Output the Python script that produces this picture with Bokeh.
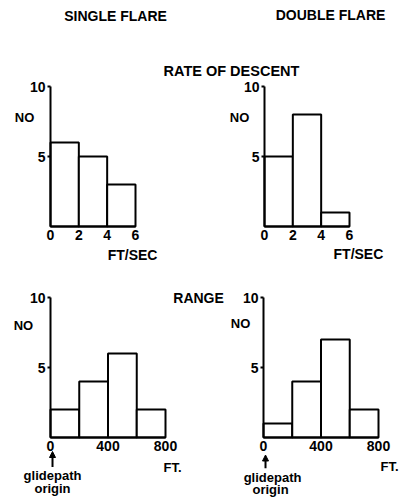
from bokeh.plotting import figure
from bokeh.layouts import column, row
from bokeh.models import Range1d, FixedTicker, Label, Arrow, NormalHead
from bokeh.embed import file_html
from bokeh.resources import INLINE

FONT = "Liberation Sans"

# Rate of descent (ft/sec) histogram
descent_edges = [0, 2, 4, 6]
descent_single = [6, 5, 3]
descent_double = [5, 8, 1]
descent_ticks = [0, 2, 4, 6]

# Range (ft) histogram
range_edges = [0, 200, 400, 600, 800]
range_single = [2, 4, 6, 2]
range_double = [1, 4, 7, 2]
range_ticks = [0, 400, 800]

count_ticks = [5, 10]

PX_PER_COUNT = 14.0


def panel(edges, counts, xticks, width, height, origin_x, origin_y, px_per_x):
    # frame fills the whole canvas; the axes are pinned to the data origin
    x0 = -origin_x / px_per_x
    x1 = (width - origin_x) / px_per_x
    y1 = origin_y / PX_PER_COUNT
    y0 = -(height - origin_y) / PX_PER_COUNT
    p = figure(width=width, height=height, output_backend="svg", toolbar_location=None,
               x_range=Range1d(x0, x1), y_range=Range1d(y0, y1), min_border=0)
    p.outline_line_color = None
    p.xgrid.visible = False
    p.ygrid.visible = False
    p.quad(left=edges[:-1], right=edges[1:], top=counts, bottom=0,
           fill_color="white", line_color="black", line_width=2)
    xa, ya = p.xaxis[0], p.yaxis[0]
    xa.fixed_location = 0
    ya.fixed_location = 0
    xa.ticker = FixedTicker(ticks=xticks)
    xa.bounds = (0, edges[-1])
    ya.ticker = FixedTicker(ticks=count_ticks)
    ya.bounds = (0, 10)
    for ax in (xa, ya):
        ax.axis_line_width = 2
        ax.axis_line_color = "black"
        ax.major_tick_line_width = 2
        ax.minor_tick_line_color = None
        ax.major_label_text_font = FONT
        ax.major_label_text_font_style = "bold"
        ax.major_label_text_font_size = "14px"
        ax.major_label_text_color = "black"
    xa.major_tick_in = 0
    xa.major_tick_out = 0
    xa.major_label_standoff = 3
    ya.major_tick_in = 0
    ya.major_tick_out = 3
    ya.major_label_standoff = 2
    return p


def text(p, x, y, s, size="13px", align="center"):
    p.add_layout(Label(x=x, y=y, text=s, text_font=FONT, text_font_style="bold",
                       text_font_size=size, text_align=align, text_baseline="middle",
                       text_color="black"))


# header with the column titles and the first section title
head = figure(width=404, height=80, output_backend="svg", toolbar_location=None,
              x_range=Range1d(0, 404), y_range=Range1d(80, 0), min_border=0)
head.axis.visible = False
head.grid.visible = False
head.outline_line_color = None
text(head, 117, 15, "SINGLE  FLARE", "14px")
text(head, 332, 14, "DOUBLE  FLARE", "14px")
text(head, 235, 70, "RATE  OF  DESCENT", "14.5px")

descent_px = 85 / 6
range_px = 115 / 800

tl = panel(descent_edges, descent_single, descent_ticks, 226, 208, 50, 146, descent_px)
tr = panel(descent_edges, descent_double, descent_ticks, 178, 208, 38, 146, descent_px)
text(tl, -1.83, 7.8, "NO")
text(tr, -1.76, 7.8, "NO")
text(tl, 5.79, -2.0, "FT/SEC", "14px")
text(tr, 6.63, -1.93, "FT/SEC", "14px")

bl = panel(range_edges, range_single, range_ticks, 226, 209, 50, 149, range_px)
br = panel(range_edges, range_double, range_ticks, 178, 209, 37, 149, range_px)
text(bl, -188, 8.0, "NO")
text(br, -160, 8.14, "NO")
text(bl, 1030, 9.93, "RANGE", "14px")
text(bl, 849, -2.14, "FT.", "13px")
text(br, 877, -2.07, "FT.", "13px")
text(bl, 14, -2.71, "glidepath", "13px")
text(bl, 14, -3.62, "origin", "13px")
text(br, 63, -2.88, "glidepath", "13px")
text(br, 49, -3.68, "origin", "13px")
bl.add_layout(Arrow(x_start=14, y_start=-2.1, x_end=14, y_end=-1.0, line_width=2,
                    end=NormalHead(size=6, fill_color="black", line_color="black")))
br.add_layout(Arrow(x_start=14, y_start=-2.2, x_end=14, y_end=-1.25, line_width=2,
                    end=NormalHead(size=6, fill_color="black", line_color="black")))

layout = column(head, row(tl, tr), row(bl, br))
open("out.html", "w").write(file_html(layout, INLINE))
